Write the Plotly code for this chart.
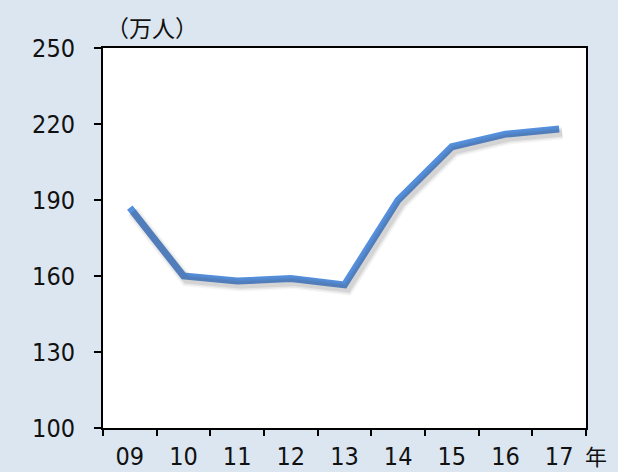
import plotly.graph_objects as go

# Annual figures, in units of 10,000 people
years = ["09", "10", "11", "12", "13", "14", "15", "16", "17"]
visitors = [187, 160, 158, 159, 156.5, 190, 211, 216, 218]
y_ticks = [100, 130, 160, 190, 220, 250]

W, H = 618, 472
L, R, T, B = 103, 32, 48, 44
pw = W - L - R
ph = H - T - B
bg = "#dce6f1"
line_color = "#5590de"

# pixel offset of the soft drop shadow under the line
dx, dy = 3, 4
y_lo, y_hi = 100, 250
shift_x = dx / (pw / len(years))
shift_y = dy * (y_hi - y_lo) / ph

fig = go.Figure()

# blurred shadow: a few wide, faint strokes on an offset pair of axes
for width, alpha in [(13, 0.05), (10, 0.08), (7, 0.12)]:
    fig.add_trace(go.Scatter(
        x=years, y=visitors, mode="lines",
        line=dict(color=f"rgba(70,70,70,{alpha})", width=width),
        xaxis="x2", yaxis="y2", hoverinfo="skip", showlegend=False,
    ))
fig.add_trace(go.Scatter(
    x=years, y=visitors, mode="lines",
    line=dict(color=line_color, width=7),
    showlegend=False,
))

axis_font = dict(family="Liberation Sans Narrow, DejaVu Sans Condensed, sans-serif",
                 size=25, color="#111")

fig.update_layout(
    width=W, height=H,
    margin=dict(l=L, r=R, t=T, b=B),
    paper_bgcolor=bg, plot_bgcolor="white",
    xaxis=dict(
        type="category", categoryorder="array", categoryarray=years,
        tickson="boundaries", ticks="outside", ticklen=6, tickwidth=2,
        tickcolor="black", showline=True, linecolor="black", linewidth=2,
        mirror=True, showgrid=False, zeroline=False, tickfont=axis_font,
        range=[-0.5, len(years) - 0.5], ticklabelstandoff=5,
        automargin=False,
    ),
    yaxis=dict(
        range=[y_lo, y_hi], tickvals=y_ticks, ticks="outside", ticklen=7,
        tickwidth=2, tickcolor="black", showline=True, linecolor="black",
        linewidth=2, mirror=True, showgrid=False, zeroline=False,
        tickfont=axis_font, ticklabelstandoff=14, automargin=False,
    ),
    xaxis2=dict(
        type="category", categoryorder="array", categoryarray=years,
        range=[-0.5 - shift_x, len(years) - 0.5 - shift_x],
        overlaying="x", visible=False,
    ),
    yaxis2=dict(
        range=[y_lo + shift_y, y_hi + shift_y],
        overlaying="y", visible=False,
    ),
)

def px_to_paper(x, y):
    return (x - L) / pw, (H - y - B) / ph

ux, uy = px_to_paper(104, 27)
nx, ny = px_to_paper(596, 455)
fig.add_annotation(text="（万人）", x=ux, y=uy, xref="paper", yref="paper",
                   showarrow=False, xanchor="left", yanchor="middle",
                   font=dict(family="Noto Sans CJK JP", size=23, color="#111"))
fig.add_annotation(text="年", x=nx, y=ny, xref="paper", yref="paper",
                   showarrow=False, xanchor="center", yanchor="middle",
                   borderpad=0,
                   font=dict(family="Noto Sans CJK JP", size=22, color="#111"))

fig.write_html("out.html")
